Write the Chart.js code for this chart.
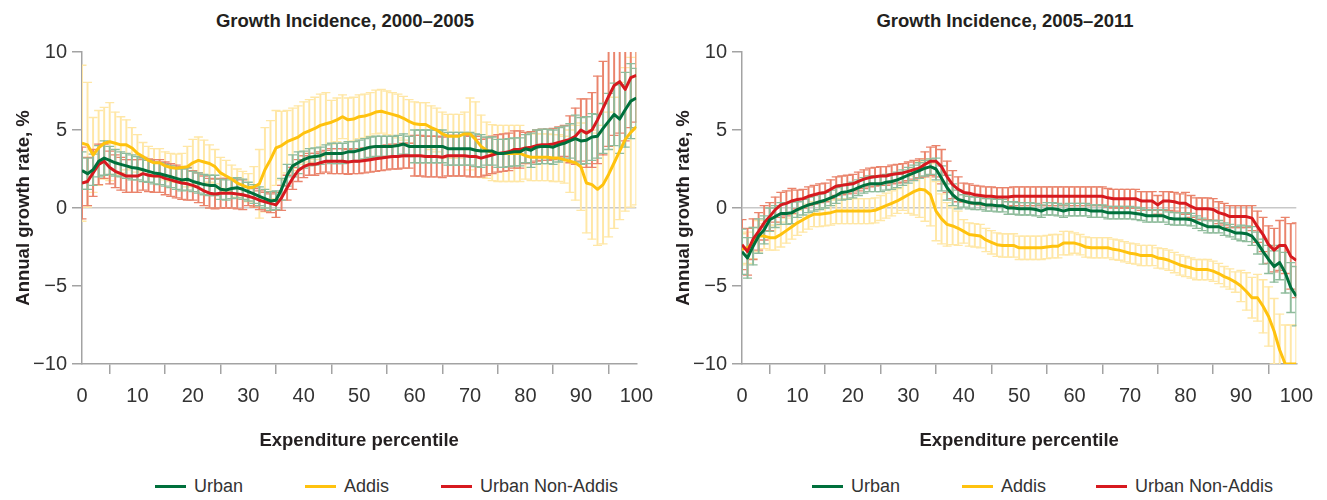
<!DOCTYPE html>
<html>
<head>
<meta charset="utf-8">
<script src="https://cdn.jsdelivr.net/npm/chart.js@4.4.1/dist/chart.umd.min.js"></script>
<style>
  body { margin: 0; background: #fff; width: 1327px; height: 500px; position: relative; overflow: hidden;
         font-family: "Liberation Sans", Arial, sans-serif; color: #231f20; }
  canvas { position: absolute; top: 30px; }
  .title { position: absolute; top: 10px; font-size: 18.5px; font-weight: bold; white-space: nowrap; transform: translateX(-50%); }
  .item { position: absolute; top: 476px; display: flex; align-items: center; font-size: 18px; white-space: nowrap; color: #333; }
  .swatch { width: 31px; height: 3px; margin-right: 8px; }
</style>
</head>
<body>
<div class="title" style="left:345px">Growth Incidence, 2000–2005</div>
<div class="title" style="left:1005px">Growth Incidence, 2005–2011</div>
<canvas id="left" width="663" height="430" style="left:0px"></canvas>
<canvas id="right" width="663" height="430" style="left:660px"></canvas>

<div class="item" style="left:155px"><span class="swatch" style="background:#00703c"></span>Urban</div>
<div class="item" style="left:305px"><span class="swatch" style="background:#ffc20e"></span>Addis</div>
<div class="item" style="left:441px"><span class="swatch" style="background:#d7191f"></span>Urban Non-Addis</div>
<div class="item" style="left:812px"><span class="swatch" style="background:#00703c"></span>Urban</div>
<div class="item" style="left:962px"><span class="swatch" style="background:#ffc20e"></span>Addis</div>
<div class="item" style="left:1096px"><span class="swatch" style="background:#d7191f"></span>Urban Non-Addis</div>

<script>
// expenditure percentiles on the x axis
const percentiles = [
  0,1,2,3,4,5,6,7,8,9,10,11,12,13,14,15,16,17,18,19,20,21,22,23,24,25,26,27,28,29,
  30,31,32,33,34,35,36,37,38,39,40,41,42,43,44,45,46,47,48,49,50,51,52,53,54,55,56,57,58,59,
  60,61,62,63,64,65,66,67,68,69,70,71,72,73,74,75,76,77,78,79,80,81,82,83,84,85,86,87,88,89,
  90,91,92,93,94,95,96,97,98,99,100
];
const xTicks = [0, 10, 20, 30, 40, 50, 60, 70, 80, 90, 100];
const yTicks = [-10, -5, 0, 5, 10];

// 2000–2005 : annual growth rate and half-width of the confidence band
const urban0005 = [
  2.4,2.2,2.45,3.0,3.2,3.05,2.9,2.8,2.7,2.6,
  2.55,2.45,2.35,2.25,2.2,2.1,2.0,1.9,1.8,1.85,
  1.7,1.6,1.5,1.45,1.45,1.2,1.15,1.25,1.3,1.2,
  1.05,0.9,0.75,0.6,0.45,0.5,1.2,2.1,2.7,2.9,
  3.1,3.25,3.3,3.35,3.5,3.5,3.5,3.5,3.6,3.6,
  3.7,3.8,3.9,3.95,3.95,3.95,3.95,4.0,4.1,3.95,
  3.95,3.95,3.95,3.95,3.95,3.95,3.8,3.8,3.8,3.8,
  3.8,3.7,3.65,3.65,3.65,3.5,3.5,3.55,3.6,3.6,
  3.8,3.7,3.9,3.95,3.95,3.9,4.05,4.15,4.3,4.45,
  4.3,4.35,4.55,4.6,5.1,5.55,6.0,5.7,6.3,6.85,
  7.05
];
const urban0005Err = [
  1.2,1.0,1.0,1.0,1.1,0.9,0.85,0.8,0.8,0.8,
  0.75,0.75,0.7,0.7,0.7,0.7,0.7,0.7,0.7,0.7,
  0.65,0.65,0.65,0.65,0.65,0.65,0.65,0.65,0.65,0.65,
  0.6,0.6,0.6,0.6,0.6,0.6,0.7,0.7,0.7,0.7,
  0.55,0.55,0.55,0.55,0.55,0.65,0.65,0.65,0.65,0.65,
  0.65,0.65,0.65,0.65,0.65,0.65,0.65,0.65,0.65,0.65,
  1.05,1.05,1.05,1.05,1.05,1.05,1.05,1.05,1.05,1.05,
  1.05,1.05,1.05,0.9,0.9,0.9,0.9,0.9,0.9,0.9,
  0.9,1.1,1.1,1.1,1.1,1.1,1.1,1.1,1.1,1.5,
  1.5,1.5,1.5,1.4,1.6,1.8,2.0,2.2,2.4,2.4,
  1.9
];
const addis0005 = [
  4.15,4.05,3.4,3.85,4.15,4.25,4.15,4.05,4.05,3.85,
  3.5,3.3,3.05,2.9,2.9,2.7,2.6,2.55,2.6,2.65,
  2.9,3.05,2.95,2.85,2.65,2.25,2.05,1.85,1.6,1.45,
  1.3,1.35,1.55,2.45,3.1,3.85,4.0,4.25,4.4,4.55,
  4.8,4.95,5.1,5.3,5.4,5.5,5.65,5.85,5.65,5.7,
  5.85,5.9,6.0,6.15,6.2,6.1,6.0,5.9,5.75,5.55,
  5.4,5.35,5.35,5.15,5.0,4.75,4.6,4.6,4.6,4.75,
  4.75,4.4,3.95,3.7,3.55,3.5,3.5,3.5,3.5,3.5,
  3.35,3.25,3.25,3.25,3.25,3.2,3.2,3.1,3.0,2.9,
  2.65,1.6,1.5,1.2,1.5,2.15,2.9,3.65,4.4,4.85,
  5.2
];
const addis0005Err = [
  5.0,4.0,2.4,2.4,2.3,2.5,2.0,1.8,1.6,1.3,
  1.2,0.9,0.9,0.9,0.9,0.9,0.9,0.9,0.9,1.3,
  1.5,1.5,1.4,1.2,1.1,1.0,1.0,0.9,0.9,0.9,
  0.9,1.3,2.2,2.7,2.5,2.4,2.2,2.0,2.0,2.0,
  2.0,2.0,2.0,2.0,2.0,1.4,1.4,1.4,1.4,1.4,
  1.4,1.4,1.4,1.4,1.4,1.4,1.4,1.4,1.4,1.4,
  1.4,1.4,1.4,1.4,1.4,1.4,1.4,1.4,1.4,1.4,
  2.3,2.4,2.0,1.8,1.8,1.8,1.8,1.8,1.8,1.8,
  1.5,1.5,1.5,1.5,1.5,1.5,1.5,1.5,2.0,2.4,
  2.8,3.2,3.5,3.6,3.8,4.0,4.2,4.4,4.6,4.8,
  5.0
];
const nonAddis0005 = [
  1.6,1.7,2.25,2.8,3.0,2.6,2.35,2.2,2.05,2.05,
  2.05,2.2,2.1,2.05,2.05,1.9,1.8,1.7,1.6,1.55,
  1.45,1.3,1.1,0.95,0.9,0.95,0.95,0.95,0.9,0.85,
  0.75,0.65,0.5,0.4,0.3,0.2,0.65,1.3,1.9,2.4,
  2.65,2.8,2.8,2.9,3.0,3.0,3.0,3.0,2.95,3.0,
  3.0,3.05,3.1,3.15,3.2,3.25,3.3,3.3,3.35,3.35,
  3.35,3.35,3.3,3.3,3.3,3.25,3.35,3.35,3.35,3.35,
  3.3,3.3,3.2,3.3,3.4,3.5,3.55,3.6,3.75,3.75,
  3.85,3.9,4.0,4.05,4.05,4.1,4.2,4.3,4.4,4.6,
  5.0,4.8,5.0,5.65,6.4,7.15,7.85,8.1,7.6,8.35,
  8.5
];
const nonAddis0005Err = [
  2.3,1.55,1.5,1.3,1.1,1.05,1.05,1.05,1.05,1.05,
  1.05,1.05,1.05,1.05,1.05,1.05,1.05,1.05,1.05,1.05,
  0.95,0.95,0.95,0.95,0.95,0.95,0.95,0.95,0.95,0.95,
  0.6,0.6,0.6,0.6,0.6,0.8,0.8,0.8,0.7,0.7,
  0.7,0.7,0.7,0.7,0.7,0.8,0.8,0.8,0.8,0.8,
  0.8,0.8,0.8,0.8,0.8,0.8,0.8,0.8,0.8,0.8,
  1.3,1.3,1.3,1.3,1.3,1.3,1.3,1.3,1.3,1.3,
  1.3,1.3,1.2,1.2,1.2,1.2,1.2,1.2,1.2,1.2,
  1.0,1.0,1.0,1.0,1.0,1.0,1.0,1.0,1.5,1.8,
  2.0,2.2,2.4,2.8,3.0,3.2,3.2,3.3,3.3,3.2,
  3.0
];

// 2005–2011
const urban0511 = [
  -2.8,-3.2,-2.45,-1.8,-1.4,-0.75,-0.55,-0.35,-0.35,-0.3,
  -0.1,0.05,0.2,0.3,0.4,0.5,0.65,0.8,1.0,1.05,
  1.15,1.3,1.45,1.55,1.55,1.55,1.65,1.7,1.8,1.95,
  2.1,2.25,2.4,2.55,2.65,2.5,1.9,1.3,0.85,0.55,
  0.45,0.35,0.3,0.3,0.2,0.2,0.15,0.15,0.0,0.0,
  -0.05,-0.05,-0.05,-0.1,-0.2,-0.05,-0.05,-0.1,-0.2,-0.1,
  -0.1,-0.1,-0.1,-0.2,-0.2,-0.2,-0.3,-0.3,-0.3,-0.3,
  -0.3,-0.35,-0.4,-0.5,-0.5,-0.5,-0.5,-0.65,-0.7,-0.7,
  -0.7,-0.75,-0.9,-1.05,-1.2,-1.2,-1.2,-1.35,-1.45,-1.6,
  -1.6,-1.65,-1.8,-2.25,-2.8,-3.3,-3.75,-3.5,-4.15,-5.1,
  -5.65
];
const urban0511Err = [
  1.45,1.3,1.2,1.1,0.9,0.75,0.7,0.7,0.7,0.7,
  0.5,0.5,0.5,0.5,0.5,0.5,0.5,0.5,0.5,0.5,
  0.5,0.5,0.5,0.5,0.5,0.5,0.5,0.5,0.5,0.5,
  0.5,0.5,0.5,0.5,0.5,0.7,0.8,0.8,0.7,0.6,
  0.4,0.4,0.4,0.4,0.4,0.4,0.4,0.4,0.4,0.4,
  0.4,0.4,0.4,0.4,0.4,0.4,0.4,0.4,0.4,0.4,
  0.4,0.4,0.4,0.4,0.4,0.4,0.4,0.4,0.4,0.4,
  0.4,0.4,0.4,0.4,0.4,0.4,0.4,0.4,0.4,0.4,
  0.4,0.4,0.4,0.4,0.4,0.4,0.4,0.4,0.4,0.4,
  0.5,0.5,0.6,0.7,0.8,0.9,1.0,1.1,1.3,1.6,
  1.9
];
const addis0511 = [
  -2.65,-2.55,-2.25,-1.8,-1.8,-1.9,-1.9,-1.7,-1.45,-1.2,
  -0.95,-0.75,-0.55,-0.4,-0.4,-0.35,-0.3,-0.2,-0.2,-0.2,
  -0.2,-0.2,-0.2,-0.2,-0.15,0.0,0.15,0.3,0.45,0.65,
  0.85,1.05,1.2,1.15,0.85,-0.2,-0.7,-1.05,-1.15,-1.3,
  -1.5,-1.7,-1.75,-1.8,-2.05,-2.2,-2.35,-2.4,-2.4,-2.4,
  -2.55,-2.55,-2.55,-2.55,-2.55,-2.5,-2.45,-2.45,-2.25,-2.25,
  -2.25,-2.35,-2.5,-2.55,-2.55,-2.55,-2.55,-2.65,-2.7,-2.8,
  -2.9,-2.95,-3.05,-3.05,-3.05,-3.2,-3.25,-3.35,-3.5,-3.65,
  -3.75,-3.85,-3.95,-3.95,-3.95,-4.05,-4.2,-4.4,-4.55,-4.75,
  -5.0,-5.35,-5.75,-5.75,-6.3,-6.95,-7.9,-9.1,-10,-10,
  -10
];
const addis0511Err = [
  1.0,1.0,1.0,1.0,0.8,0.8,0.8,0.8,0.8,0.8,
  0.8,0.8,0.8,0.8,0.8,0.8,0.8,0.8,0.8,0.8,
  0.8,0.8,0.8,0.8,0.8,0.8,0.8,0.8,0.8,0.8,
  1.2,1.5,1.8,2.0,2.0,1.9,1.6,1.4,1.2,1.1,
  0.75,0.75,0.75,0.75,0.75,0.75,0.75,0.75,0.75,0.75,
  0.75,0.75,0.75,0.75,0.75,0.75,0.75,0.75,0.75,0.75,
  0.65,0.65,0.65,0.65,0.65,0.65,0.65,0.65,0.65,0.65,
  0.65,0.65,0.65,0.65,0.65,0.65,0.65,0.65,0.65,0.65,
  0.65,0.65,0.65,0.65,0.65,0.65,0.65,0.65,0.65,0.65,
  1.0,1.2,1.3,1.5,1.7,1.9,2.1,2.3,2.5,2.5,
  2.5
];
const nonAddis0511 = [
  -2.35,-2.8,-2.0,-1.5,-0.95,-0.55,-0.1,0.2,0.3,0.45,
  0.55,0.6,0.75,0.85,0.95,1.0,1.2,1.4,1.45,1.5,
  1.55,1.7,1.85,1.95,2.0,2.05,2.05,2.15,2.2,2.25,
  2.35,2.45,2.55,2.8,3.0,3.0,2.65,2.0,1.5,1.2,
  1.0,0.95,0.85,0.8,0.75,0.75,0.7,0.7,0.7,0.75,
  0.75,0.75,0.75,0.75,0.75,0.75,0.75,0.75,0.75,0.75,
  0.75,0.75,0.75,0.75,0.75,0.75,0.65,0.6,0.6,0.6,
  0.6,0.6,0.45,0.45,0.45,0.2,0.45,0.45,0.4,0.3,
  0.3,0.1,-0.05,-0.05,-0.05,-0.1,-0.3,-0.4,-0.55,-0.55,
  -0.55,-0.55,-0.65,-1.2,-1.7,-2.35,-2.7,-2.4,-2.4,-3.1,
  -3.35
];
const nonAddis0511Err = [
  1.6,1.5,1.3,1.2,1.1,0.9,0.8,0.8,0.8,0.8,
  0.6,0.6,0.6,0.6,0.6,0.6,0.6,0.6,0.6,0.6,
  0.6,0.6,0.6,0.6,0.6,0.6,0.6,0.6,0.6,0.6,
  0.6,0.6,0.6,0.8,0.9,1.0,1.1,1.0,0.9,0.8,
  0.6,0.6,0.6,0.6,0.6,0.6,0.6,0.6,0.6,0.6,
  0.6,0.6,0.6,0.6,0.6,0.6,0.6,0.6,0.6,0.6,
  0.6,0.6,0.6,0.6,0.6,0.6,0.6,0.6,0.6,0.6,
  0.6,0.6,0.6,0.6,0.6,0.6,0.6,0.6,0.6,0.6,
  0.7,0.7,0.7,0.7,0.7,0.7,0.7,0.7,0.7,0.7,
  0.7,0.7,0.8,1.0,1.1,1.2,1.4,1.6,1.8,2.1,
  2.4
];

const FONT = '"Liberation Sans", Arial, sans-serif';
const AXIS_GREY = '#a3a3a3';

// line colour, light colour for the confidence bars
const GREEN = ['#00703c', '#8fbc9c'];
const YELLOW = ['#ffc20e', '#ffe7a6'];
const RED = ['#d7191f', '#ea846c'];

function toPoints(values) {
  return values.map((v, i) => ({ x: percentiles[i], y: v }));
}

// one series = thin floating bars + low/high caps + the line itself
function seriesDatasets(label, values, errs, colors, lineOrder, barOrder) {
  const lo = values.map((v, i) => v - errs[i]);
  const hi = values.map((v, i) => v + errs[i]);
  const cap = {
    type: 'line', showLine: false, pointStyle: 'line', pointRadius: 4.5, pointHoverRadius: 0,
    pointBorderWidth: 1.3, pointBorderColor: colors[1], order: barOrder
  };
  return [
    {
      type: 'bar', label: label + ' CI', grouped: false, barThickness: 1.3,
      backgroundColor: colors[1], borderWidth: 0, order: barOrder,
      data: values.map((v, i) => ({ x: percentiles[i], y: [lo[i], hi[i]] }))
    },
    Object.assign({ label: label + ' low', data: toPoints(lo) }, cap),
    Object.assign({ label: label + ' high', data: toPoints(hi) }, cap),
    {
      type: 'line', label, data: toPoints(values), borderColor: colors[0], borderWidth: 3,
      pointRadius: 0, tension: 0, borderJoinStyle: 'round', order: lineOrder
    }
  ];
}

function makeChart(id, urban, urbanErr, addis, addisErr, nonAddis, nonAddisErr) {
  const datasets = [].concat(
    seriesDatasets('Urban', urban, urbanErr, GREEN, 0, 3),
    seriesDatasets('Addis', addis, addisErr, YELLOW, 2, 5),
    seriesDatasets('Urban Non-Addis', nonAddis, nonAddisErr, RED, 1, 4)
  );
  return new Chart(document.getElementById(id), {
    type: 'line',
    data: { datasets },
    options: {
      responsive: false,
      animation: false,
      events: [],
      layout: { padding: { top: 22, right: 26, left: 0, bottom: 0 } },
      plugins: { legend: { display: false }, tooltip: { enabled: false } },
      scales: {
        x: {
          type: 'linear', min: 0, max: 100, offset: false,
          afterBuildTicks: s => { s.ticks = xTicks.map(v => ({ value: v })); },
          afterFit: s => { s.height = 96; },
          grid: { drawOnChartArea: false, tickLength: 10, tickColor: AXIS_GREY, lineWidth: 1.5 },
          border: { color: AXIS_GREY, width: 1.5 },
          ticks: { color: '#333', padding: 10, maxRotation: 0, font: { family: FONT, size: 20 } },
          title: { display: true, text: 'Expenditure percentile', color: '#231f20',
                   padding: { top: 0, bottom: 8 }, font: { family: FONT, size: 18.5, weight: 'bold' } }
        },
        y: {
          min: -10, max: 10,
          afterBuildTicks: s => { s.ticks = yTicks.map(v => ({ value: v })); },
          afterFit: s => { s.width = 82; },
          grid: {
            color: c => (c.tick && c.tick.value === 0 ? '#c8c8c8' : 'rgba(0,0,0,0)'),
            tickColor: AXIS_GREY, tickLength: 10, lineWidth: 1.5
          },
          border: { color: AXIS_GREY, width: 1.5 },
          ticks: {
            color: '#333', padding: 5, font: { family: FONT, size: 20 },
            callback: v => (v < 0 ? '\u2212' + Math.abs(v) : String(v))
          },
          title: { display: true, text: 'Annual growth rate, %', color: '#231f20',
                   padding: { top: 13, bottom: 0 }, font: { family: FONT, size: 18.5, weight: 'bold' } }
        }
      }
    }
  });
}

makeChart('left', urban0005, urban0005Err, addis0005, addis0005Err, nonAddis0005, nonAddis0005Err);
makeChart('right', urban0511, urban0511Err, addis0511, addis0511Err, nonAddis0511, nonAddis0511Err);
</script>
</body>
</html>
